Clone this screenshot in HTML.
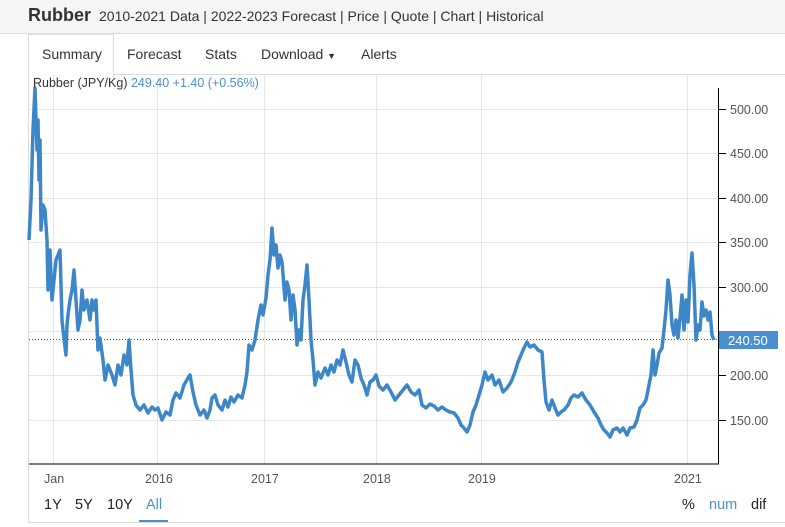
<!DOCTYPE html>
<html><head><meta charset="utf-8"><style>
body{margin:0;width:785px;height:527px;background:#fff;font-family:"Liberation Sans",sans-serif;overflow:hidden;position:relative}
.hdr{position:absolute;left:0;top:0;width:785px;height:33px;background:#f5f5f5;border-bottom:1px solid #ddd}
.t{position:absolute;left:28px;top:5px;font-size:18px;font-weight:bold;color:#333}
.s{position:absolute;left:99px;top:8px;font-size:14px;color:#333}
.tab{position:absolute;top:46px;font-size:14px;color:#333}
.box{position:absolute;left:28px;top:74px;width:760px;height:447px;border-left:1px solid #ddd;border-bottom:1px solid #ddd;border-top:1px solid #ddd}
.act{position:absolute;left:28px;top:34px;width:84px;height:41px;border:1px solid #ddd;border-bottom:1px solid #fff;background:#fff}
</style></head><body>
<div class="hdr"><div class="t">Rubber</div><div class="s">2010-2021 Data | 2022-2023 Forecast | Price | Quote | Chart | Historical</div></div>
<div class="box"></div>
<div class="act"></div>
<div class="tab" style="left:42px">Summary</div>
<div class="tab" style="left:127px">Forecast</div>
<div class="tab" style="left:205px">Stats</div>
<div class="tab" style="left:261px">Download <span style="font-size:9px">▼</span></div>
<div class="tab" style="left:361px">Alerts</div>
<svg width="785" height="527" style="position:absolute;left:0;top:0">
<g stroke="#e6e6e6" stroke-width="1">
<line x1="29" x2="718" y1="109.5" y2="109.5"/><line x1="29" x2="718" y1="153.5" y2="153.5"/><line x1="29" x2="718" y1="198.5" y2="198.5"/><line x1="29" x2="718" y1="242.5" y2="242.5"/><line x1="29" x2="718" y1="287.5" y2="287.5"/><line x1="29" x2="718" y1="331.5" y2="331.5"/><line x1="29" x2="718" y1="375.5" y2="375.5"/><line x1="29" x2="718" y1="420.5" y2="420.5"/>
<line x1="53.5" x2="53.5" y1="75" y2="464"/><line x1="157.5" x2="157.5" y1="75" y2="464"/><line x1="264.5" x2="264.5" y1="75" y2="464"/><line x1="376.5" x2="376.5" y1="75" y2="464"/><line x1="481.5" x2="481.5" y1="75" y2="464"/><line x1="687.5" x2="687.5" y1="75" y2="464"/>
</g>
<line x1="29" x2="718" y1="339.5" y2="339.5" stroke="#555" stroke-dasharray="1,2"/>
<line x1="29" x2="719" y1="464" y2="464" stroke="#000"/>
<line x1="718.5" x2="718.5" y1="88" y2="464" stroke="#000"/>
<g stroke="#000"><line x1="718" x2="726" y1="109.5" y2="109.5"/><line x1="718" x2="726" y1="153.5" y2="153.5"/><line x1="718" x2="726" y1="198.5" y2="198.5"/><line x1="718" x2="726" y1="242.5" y2="242.5"/><line x1="718" x2="726" y1="287.5" y2="287.5"/><line x1="718" x2="726" y1="375.5" y2="375.5"/><line x1="718" x2="726" y1="420.5" y2="420.5"/></g>
<polyline fill="none" stroke="#3d87c8" stroke-width="3.5" stroke-linejoin="round" points="29,240 31,200 33,130 35,88 37,150 38,120 39,180 40,140 41,230 43,205 45,210 47,240 48,290 50,250 52,300 54,280 56,260 58,255 60,250 62,320 63,330 66,355 67,325 68,315 70,300 72,290 74,270 76,300 78,330 80,320 82,290 84,310 87,300 90,320 92,300 94,310 96,300 98,350 100,338 103,360 105,380 108,365 112,375 115,385 118,365 121,375 124,355 127,365 129,340 131,370 133,395 136,405 140,410 144,405 148,413 152,407 155,410 158,408 162,420 166,412 170,415 173,400 176,393 180,398 184,385 188,378 190,375 193,392 196,405 200,415 204,410 207,418 210,410 212,398 215,395 218,405 222,410 225,400 228,407 231,397 234,402 238,395 242,398 245,385 247,372 249,345 252,350 255,340 258,320 261,305 263,315 266,298 268,275 270,260 272,228 274,255 276,245 278,268 280,255 282,262 285,300 287,282 289,290 291,320 293,295 295,310 297,345 299,330 301,340 303,300 305,285 307,265 309,300 311,340 313,360 315,385 318,372 321,378 325,368 328,375 331,365 334,372 337,360 340,365 343,350 346,362 349,375 352,382 355,360 358,365 361,378 364,385 367,395 370,382 373,380 376,375 379,386 383,390 387,385 391,392 395,400 399,395 403,390 407,385 411,392 415,395 419,390 422,405 426,408 430,404 434,406 438,410 442,407 446,410 450,412 454,413 458,418 461,425 464,428 467,432 470,425 473,412 476,405 479,395 482,385 485,372 488,380 492,375 495,385 499,380 503,392 507,388 511,382 515,372 518,362 521,355 524,348 527,342 530,347 534,345 538,350 542,352 544,380 546,402 549,410 552,400 555,408 558,415 561,412 564,410 568,405 571,398 574,395 578,397 582,393 586,400 590,405 594,412 598,418 601,425 604,430 607,433 610,437 613,430 617,428 620,432 623,428 627,435 630,428 634,427 637,420 640,408 643,405 646,400 649,385 651,375 653,350 655,375 657,365 659,353 662,348 664,330 666,310 668,280 670,295 672,325 674,335 676,320 678,338 680,318 682,295 684,330 686,300 688,322 690,275 692,253 694,285 696,340 698,325 700,330 702,302 704,316 706,310 708,320 710,312 712,335 714,340"/>
<rect x="719" y="331" width="59" height="18" fill="#4a8fd0"/>
<text x="728" y="345" font-size="13" fill="#fff" font-family="Liberation Sans">240.50</text>
<g font-size="12.5" fill="#555" font-family="Liberation Sans">
<text x="730" y="114">500.00</text><text x="730" y="158">450.00</text><text x="730" y="203">400.00</text><text x="730" y="247">350.00</text><text x="730" y="292">300.00</text><text x="730" y="380">200.00</text><text x="730" y="425">150.00</text>
<text x="44" y="483">Jan</text><text x="145" y="483">2016</text><text x="251" y="483">2017</text><text x="363" y="483">2018</text><text x="468" y="483">2019</text><text x="674" y="483">2021</text>
</g>
<text x="33" y="87" font-size="12.5" font-family="Liberation Sans"><tspan fill="#333">Rubber (JPY/Kg) </tspan><tspan fill="#4a8fd0">249.40  +1.40 (+0.56%)</tspan></text>
<g font-size="14.5" font-family="Liberation Sans" fill="#222">
<text x="44" y="509">1Y</text><text x="75" y="509">5Y</text><text x="107" y="509">10Y</text><text x="146" y="509" fill="#4a8fd0">All</text>
<text x="682" y="509">%</text><text x="709" y="509" fill="#4a8fd0">num</text><text x="751" y="509">dif</text>
</g>
<line x1="139" x2="168" y1="521" y2="521" stroke="#4a8fd0" stroke-width="2"/>
</svg>
</body></html>
